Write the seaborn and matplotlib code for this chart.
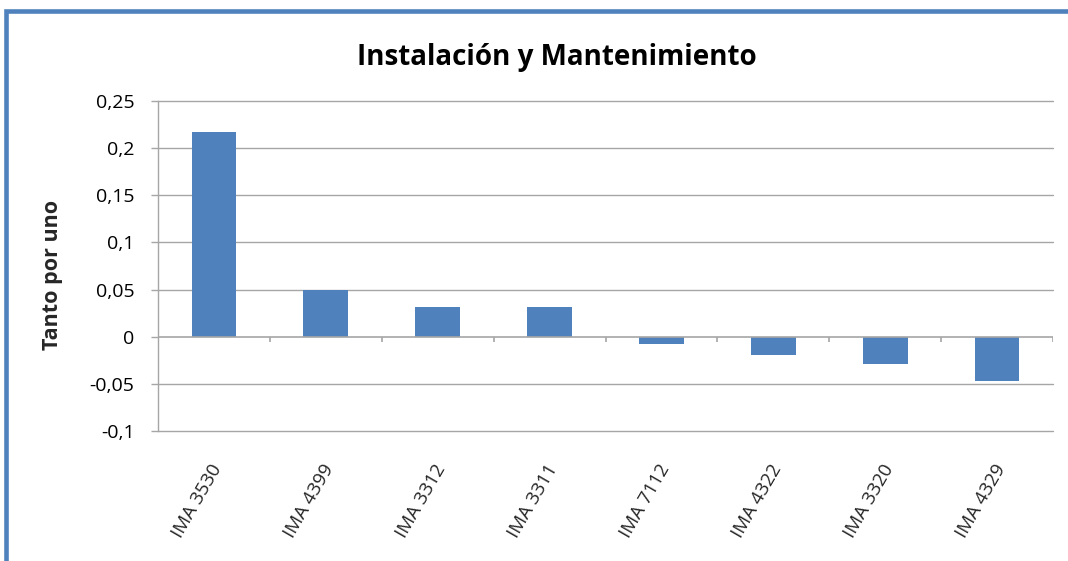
import matplotlib
matplotlib.use("Agg")
import matplotlib.pyplot as plt
import matplotlib.transforms as mtransforms
from matplotlib.patches import Rectangle
import pandas as pd
import seaborn as sns

# Data
categories = ["IMA 3530", "IMA 4399", "IMA 3312", "IMA 3311",
              "IMA 7112", "IMA 4322", "IMA 3320", "IMA 4329"]
values = [0.217, 0.05, 0.032, 0.032, -0.008, -0.019, -0.029, -0.047]
y_ticks = [-0.1, -0.05, 0, 0.05, 0.1, 0.15, 0.2, 0.25]
y_tick_labels = ["-0,1", "-0,05", "0", "0,05", "0,1", "0,15", "0,2", "0,25"]

title = "Instalación y Mantenimiento"
y_label = "Tanto por uno"

sns.set_theme(style="white")
plt.rcParams["font.family"] = ["Open Sans", "DejaVu Sans"]

bar_color = "#4F81BD"
grid_color = "#A6A6A6"

df = pd.DataFrame({"categoria": categories, "valor": values})

fig = plt.figure(figsize=(10.68, 5.61), dpi=100)
ax = fig.add_axes([158 / 1068, 1 - 431 / 561, (1053 - 158) / 1068, (431 - 101) / 561])

sns.barplot(data=df, x="categoria", y="valor", color=bar_color,
            width=0.4, saturation=1, ax=ax, linewidth=0)

ax.set_xlim(-0.5, len(categories) - 0.5)
ax.set_ylim(y_ticks[0], y_ticks[-1])
ax.set_yticks(y_ticks)
ax.set_yticklabels(y_tick_labels, fontsize=14, color="#000000")

# Horizontal gridlines
for yv in y_ticks:
    if yv != 0:
        ax.axhline(yv, color=grid_color, lw=1.0, zorder=0, clip_on=False)
ax.set_axisbelow(True)

for side in ["top", "right", "bottom"]:
    ax.spines[side].set_visible(False)
ax.spines["left"].set_color(grid_color)
ax.spines["left"].set_linewidth(1.0)

ax.tick_params(axis="y", which="major", direction="out", length=5,
               width=1.0, color=grid_color, pad=12, left=True)

# Category axis sits on the zero line, with ticks between categories
ax.axhline(0, color=grid_color, lw=1.2, zorder=3)
ax.set_xticks(range(len(categories)))
ax.tick_params(axis="x", which="major", length=0, bottom=False)
boundaries = [i + 0.5 for i in range(len(categories))]
ax.vlines(boundaries, -0.0055, 0, color=grid_color, lw=1.2, zorder=3)

ax.set_xticklabels(categories, rotation=60, ha="right", va="center",
                   rotation_mode="anchor", fontsize=13.5)
offset = mtransforms.ScaledTranslation(0.04, -0.30, fig.dpi_scale_trans)
for lbl in ax.get_xticklabels():
    lbl.set_transform(lbl.get_transform() + offset)

ax.set_xlabel("")
ax.set_ylabel(y_label, fontsize=15.5, fontweight="bold")
ax.yaxis.set_label_coords(-0.106, 0.473)

fig.text(557 / 1068, 1 - 57 / 561, title, ha="center", va="center",
         fontsize=20, fontweight="bold", color="#000000")

# Chart area frame (top and left edges visible)
fig.patches.append(Rectangle((6 / 1068, -0.2), 1.2, 1 - 11 / 561 + 0.2,
                             transform=fig.transFigure, fill=False,
                             edgecolor=bar_color, lw=3.3, zorder=10))

fig.savefig("out.png", dpi=100)
